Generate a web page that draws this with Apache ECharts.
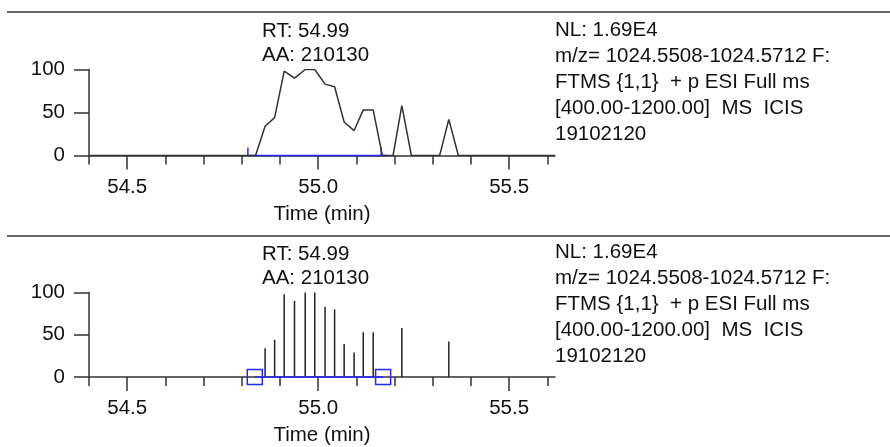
<!DOCTYPE html>
<html>
<head>
<meta charset="utf-8">
<script src="https://cdn.jsdelivr.net/npm/echarts@6/dist/echarts.min.js"></script>
<style>
  html, body { margin: 0; padding: 0; background: #fff; }
  #chart { width: 890px; height: 447px; }
</style>
</head>
<body>
<div id="chart"></div>
<script>
// scan times (min) and relative abundance (%)
var scanTimes = [54.40, 54.836, 54.861, 54.886, 54.911, 54.938, 54.966, 54.991, 55.018, 55.043,
  55.068, 55.094, 55.118, 55.144, 55.168, 55.196, 55.219, 55.244, 55.318, 55.342, 55.367, 55.62]
var intensity = [0, 0, 34, 44, 98, 90, 100, 100, 83, 80,
  39, 29, 53, 53, 0, 0, 58, 0, 0, 42, 0, 0]

var minorTicks = [54.4, 54.5, 54.6, 54.7, 54.8, 54.9, 55.0, 55.1, 55.2, 55.3, 55.4, 55.5, 55.6]
var majorTicks = [54.5, 55.0, 55.5]
var peakText = ['RT: 54.99', 'AA: 210130']
var infoText = ['NL: 1.69E4', 'm/z= 1024.5508-1024.5712 F:', 'FTMS {1,1}  + p ESI Full ms',
  '[400.00-1200.00]  MS  ICIS', '19102120']
// integration limits: top panel (ticks), bottom panel (squares)
var limitsTop = [54.816, 55.165]
var limitsBottom = [54.834, 55.17]

var ink = '#333'
var blue = '#2626ff'
var font = 'Liberation Sans, Arial, sans-serif'

var chart = echarts.init(document.getElementById('chart'))

var points = scanTimes.map(function(t, i) { return [t, intensity[i]] })

function xAxes(gridIndex) {
  var common = {
    type: 'value', gridIndex: gridIndex, min: 54.4, max: 55.62, position: 'bottom',
    splitLine: { show: false },
    axisLine: { onZero: false, lineStyle: { color: ink, width: 1.5 } }
  }
  return [
    Object.assign({}, common, {
      axisTick: { customValues: minorTicks, length: 9, lineStyle: { color: ink, width: 1.5 } },
      axisLabel: { show: false }
    }),
    Object.assign({}, common, {
      axisLine: { show: false, onZero: false },
      axisTick: { customValues: majorTicks, length: 14, lineStyle: { color: ink, width: 1.5 } },
      axisLabel: {
        customValues: majorTicks, margin: 21, color: '#111', fontSize: 20.5, fontFamily: font,
        formatter: function(v) { return v.toFixed(1) }
      },
      name: 'Time (min)', nameLocation: 'middle', nameGap: 48,
      nameTextStyle: { color: '#111', fontSize: 20.5, fontFamily: font }
    })
  ]
}

function yAxis(gridIndex) {
  return {
    type: 'value', gridIndex: gridIndex, min: 0, max: 100, interval: 50,
    splitLine: { show: false },
    axisLine: { show: true, lineStyle: { color: ink, width: 1.5 } },
    axisTick: { show: true, length: 15, lineStyle: { color: ink, width: 1.5 } },
    axisLabel: { margin: 24, color: '#111', fontSize: 20.5, fontFamily: font }
  }
}

function textBlock(x, y, lines, lh) {
  return {
    type: 'text', left: x, top: y,
    style: { text: lines.join('\n'), fill: '#111', font: '20.5px ' + font, lineHeight: lh }
  }
}

chart.setOption({
  animation: false,
  grid: [
    { left: 89, right: 335, top: 69.5, height: 86 },
    { left: 89, right: 335, top: 292.5, height: 84.5 }
  ],
  xAxis: xAxes(0).concat(xAxes(1)),
  yAxis: [yAxis(0), yAxis(1)],
  graphic: [
    { type: 'line', shape: { x1: 7, y1: 12, x2: 890, y2: 12 }, style: { stroke: ink, lineWidth: 1.5 } },
    { type: 'line', shape: { x1: 7, y1: 236, x2: 890, y2: 236 }, style: { stroke: ink, lineWidth: 1.5 } },
    textBlock(262, 19, peakText, 24),
    textBlock(555, 17, infoText, 26),
    textBlock(262, 242, peakText, 24),
    textBlock(555, 239, infoText, 26)
  ],
  series: [
    {
      // integration baseline, top panel
      type: 'custom', xAxisIndex: 0, yAxisIndex: 0, z: 1,
      data: [limitsTop],
      renderItem: function(params, api) {
        var a = api.coord([api.value(0), 0])
        var b = api.coord([api.value(1), 0])
        var st = { stroke: blue, lineWidth: 1.5 }
        return {
          type: 'group', children: [
            { type: 'line', shape: { x1: a[0], y1: a[1], x2: b[0] + 6, y2: b[1] }, style: st },
            { type: 'line', shape: { x1: a[0], y1: a[1], x2: a[0], y2: a[1] - 8 }, style: st },
            { type: 'line', shape: { x1: b[0], y1: b[1], x2: b[0], y2: b[1] - 8 }, style: st }
          ]
        }
      }
    },
    {
      type: 'line', xAxisIndex: 0, yAxisIndex: 0, z: 3,
      data: points, showSymbol: false, symbol: 'none',
      lineStyle: { color: ink, width: 1.5 }
    },
    {
      // integration baseline, bottom panel
      type: 'custom', xAxisIndex: 2, yAxisIndex: 1, z: 3,
      data: [limitsBottom],
      renderItem: function(params, api) {
        var a = api.coord([api.value(0), 0])
        var b = api.coord([api.value(1), 0])
        var st = { stroke: blue, lineWidth: 1.5, fill: null }
        return {
          type: 'group', children: [
            { type: 'line', shape: { x1: a[0], y1: a[1], x2: b[0], y2: b[1] }, style: st },
            { type: 'rect', shape: { x: a[0] - 7.5, y: a[1] - 7.5, width: 15, height: 15 }, style: st },
            { type: 'rect', shape: { x: b[0] - 7.5, y: b[1] - 7.5, width: 15, height: 15 }, style: st }
          ]
        }
      }
    },
    {
      // stick spectrum, bottom panel
      type: 'custom', xAxisIndex: 2, yAxisIndex: 1, z: 2,
      data: points,
      renderItem: function(params, api) {
        if (!api.value(1)) return null
        var p0 = api.coord([api.value(0), 0])
        var p1 = api.coord([api.value(0), api.value(1)])
        return {
          type: 'line',
          shape: { x1: p0[0], y1: p0[1], x2: p1[0], y2: p1[1] },
          style: { stroke: '#222', lineWidth: 1.5 }
        }
      }
    }
  ]
})
</script>
</body>
</html>
